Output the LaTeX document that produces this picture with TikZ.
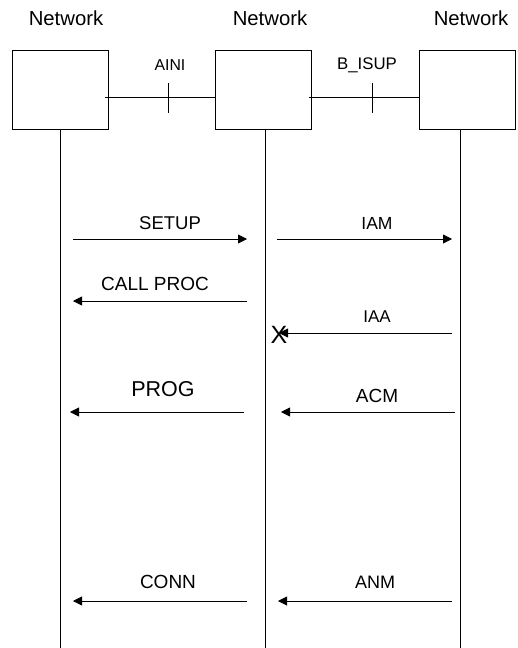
\documentclass[tikz,border=0pt]{standalone}
\usepackage{fontspec}
\setmainfont{Liberation Sans}
\usetikzlibrary{arrows.meta}
\begin{document}
\begin{tikzpicture}[x=1pt,y=-1pt,
  netbox/.style={draw,rectangle,inner sep=0pt,minimum width=96pt,minimum height=79pt},
  lbl/.style={inner sep=0pt,anchor=center},
  msg/.style={-{Triangle[length=9pt,width=9pt]},line width=0.8pt},
  ln/.style={line width=0.8pt}]
\useasboundingbox (0,0) rectangle (517,648);
% titles
\node[lbl,font=\fontsize{20.3}{22}\selectfont] (t1) at (66,18) {Network};
\node[lbl,font=\fontsize{20.3}{22}\selectfont] (t2) at (270,18) {Network};
\node[lbl,font=\fontsize{20.3}{22}\selectfont] (t3) at (471,18) {Network};
% boxes
\node[netbox] (b1) at (60,89.5) {};
\node[netbox] (b2) at (263,89.5) {};
\node[netbox] (b3) at (467,89.5) {};
% lifelines
\coordinate (e1) at (60,648);
\coordinate (e2) at (265,648);
\coordinate (e3) at (460,648);
\draw[ln] (b1.south) -- (e1);
\draw[ln] (b2.south -| e2) -- (e2);
\draw[ln] (b3.south -| e3) -- (e3);
% interfaces
\coordinate (c1) at (105,97);
\coordinate (c2) at (309,97);
\draw[ln] (c1) -- (c1 -| b2.west);
\draw[ln] (c2) -- (c2 -| b3.west);
\coordinate (k1a) at (168,83); \coordinate (k1b) at (168,113);
\coordinate (k2a) at (372,83); \coordinate (k2b) at (372,113);
\draw[ln] (k1a) -- (k1b);
\draw[ln] (k2a) -- (k2b);
\node[lbl,font=\fontsize{15.8}{17}\selectfont] (aini) at (170,65) {AINI};
\node[lbl,font=\fontsize{16.8}{18}\selectfont] (bisup) at (367,65) {B\_ISUP};
% message endpoints
\coordinate (s1) at (73,239); \coordinate (s2) at (247,239);
\coordinate (s3) at (277,239); \coordinate (s4) at (452,239);
\coordinate (p1) at (247,301); \coordinate (p2) at (73,301);
\coordinate (a1) at (452,333);
\node[lbl,font=\fontsize{25}{26}\selectfont] (xx) at (279,334.5) {X};
\coordinate (g1) at (244,412); \coordinate (g2) at (70,412);
\coordinate (m1) at (455,412); \coordinate (m2) at (281,412);
\coordinate (n1) at (247,601); \coordinate (n2) at (73,601);
\coordinate (q1) at (452,601); \coordinate (q2) at (278,601);
\draw[msg] (s1) -- (s2);
\draw[msg] (s3) -- (s4);
\draw[msg] (p1) -- (p2);
\draw[msg] (a1) -- (a1 -| xx.center);
\draw[msg] (g1) -- (g2);
\draw[msg] (m1) -- (m2);
\draw[msg] (n1) -- (n2);
\draw[msg] (q1) -- (q2);
% message labels
\node[lbl,font=\fontsize{18.5}{20}\selectfont] (lsetup) at (170,223) {SETUP};
\node[lbl,font=\fontsize{17.5}{19}\selectfont] (liam) at (377,223) {IAM};
\node[lbl,font=\fontsize{19}{20}\selectfont] (lcall) at (155,284) {CALL PROC};
\node[lbl,font=\fontsize{17}{19}\selectfont] (liaa) at (377,317) {IAA};
\node[lbl,font=\fontsize{21.5}{23}\selectfont] (lprog) at (163,389) {PROG};
\node[lbl,font=\fontsize{19}{20}\selectfont] (lacm) at (377,396) {ACM};
\node[lbl,font=\fontsize{19}{20}\selectfont] (lconn) at (168,582) {CONN};
\node[lbl,font=\fontsize{18}{19}\selectfont] (lanm) at (375,582) {ANM};
\end{tikzpicture}
\end{document}
